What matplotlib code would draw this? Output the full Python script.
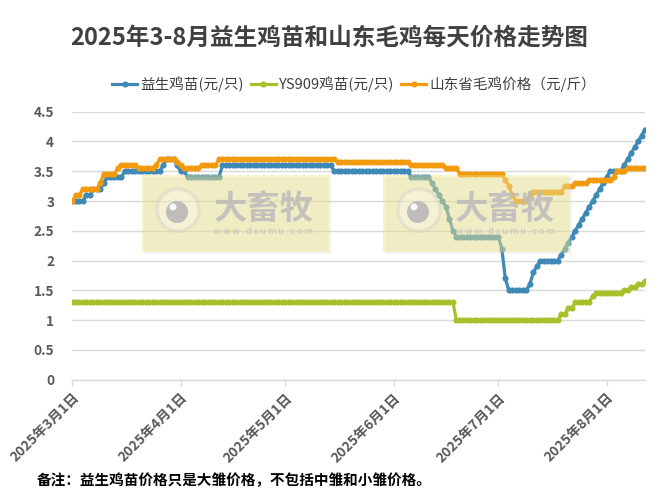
import matplotlib
matplotlib.use("Agg")
import matplotlib.pyplot as plt
from matplotlib.patches import Rectangle, Circle
from matplotlib.lines import Line2D
import pandas as pd

plt.rcParams['font.family'] = ['Noto Sans CJK SC', 'DejaVu Sans']

title = "2025年3-8月益生鸡苗和山东毛鸡每天价格走势图"
note = "备注：益生鸡苗价格只是大雏价格，不包括中雏和小雏价格。"
series_names = ["益生鸡苗(元/只)", "YS909鸡苗(元/只)", "山东省毛鸡价格（元/斤）"]
start_date = "2025-03-01"
end_date = "2025-08-12"
tick_dates = ["2025-03-01", "2025-04-01", "2025-05-01", "2025-06-01", "2025-07-01", "2025-08-01"]
tick_labels = ["2025年3月1日", "2025年4月1日", "2025年5月1日", "2025年6月1日", "2025年7月1日", "2025年8月1日"]
y_ticks = [0, 0.5, 1, 1.5, 2, 2.5, 3, 3.5, 4, 4.5]
y_tick_labels = ["0", "0.5", "1", "1.5", "2", "2.5", "3", "3.5", "4", "4.5"]

yisheng = [
    3.0, 3.0, 3.0, 3.0, 3.1, 3.1, 3.2, 3.2, 3.2, 3.3,
    3.4, 3.4, 3.4, 3.4, 3.4, 3.5, 3.5, 3.5, 3.5, 3.5,
    3.5, 3.5, 3.5, 3.5, 3.5, 3.5, 3.6, 3.7, 3.7, 3.7,
    3.6, 3.5, 3.5, 3.4, 3.4, 3.4, 3.4, 3.4, 3.4, 3.4,
    3.4, 3.4, 3.4, 3.6, 3.6, 3.6, 3.6, 3.6, 3.6, 3.6,
    3.6, 3.6, 3.6, 3.6, 3.6, 3.6, 3.6, 3.6, 3.6, 3.6,
    3.6, 3.6, 3.6, 3.6, 3.6, 3.6, 3.6, 3.6, 3.6, 3.6,
    3.6, 3.6, 3.6, 3.6, 3.6, 3.5, 3.5, 3.5, 3.5, 3.5,
    3.5, 3.5, 3.5, 3.5, 3.5, 3.5, 3.5, 3.5, 3.5, 3.5,
    3.5, 3.5, 3.5, 3.5, 3.5, 3.5, 3.5, 3.4, 3.4, 3.4,
    3.4, 3.4, 3.4, 3.3, 3.2, 3.1, 3.0, 2.9, 2.7, 2.5,
    2.4, 2.4, 2.4, 2.4, 2.4, 2.4, 2.4, 2.4, 2.4, 2.4,
    2.4, 2.4, 2.4, 2.2, 1.7, 1.5, 1.5, 1.5, 1.5, 1.5,
    1.5, 1.6, 1.8, 1.9, 2.0, 2.0, 2.0, 2.0, 2.0, 2.0,
    2.1, 2.2, 2.3, 2.4, 2.5, 2.6, 2.7, 2.8, 2.9, 3.0,
    3.1, 3.2, 3.3, 3.4, 3.5, 3.5, 3.5, 3.5, 3.6, 3.7,
    3.8, 3.9, 4.0, 4.1, 4.2,
]

ys909 = [
    1.3, 1.3, 1.3, 1.3, 1.3, 1.3, 1.3, 1.3, 1.3, 1.3,
    1.3, 1.3, 1.3, 1.3, 1.3, 1.3, 1.3, 1.3, 1.3, 1.3,
    1.3, 1.3, 1.3, 1.3, 1.3, 1.3, 1.3, 1.3, 1.3, 1.3,
    1.3, 1.3, 1.3, 1.3, 1.3, 1.3, 1.3, 1.3, 1.3, 1.3,
    1.3, 1.3, 1.3, 1.3, 1.3, 1.3, 1.3, 1.3, 1.3, 1.3,
    1.3, 1.3, 1.3, 1.3, 1.3, 1.3, 1.3, 1.3, 1.3, 1.3,
    1.3, 1.3, 1.3, 1.3, 1.3, 1.3, 1.3, 1.3, 1.3, 1.3,
    1.3, 1.3, 1.3, 1.3, 1.3, 1.3, 1.3, 1.3, 1.3, 1.3,
    1.3, 1.3, 1.3, 1.3, 1.3, 1.3, 1.3, 1.3, 1.3, 1.3,
    1.3, 1.3, 1.3, 1.3, 1.3, 1.3, 1.3, 1.3, 1.3, 1.3,
    1.3, 1.3, 1.3, 1.3, 1.3, 1.3, 1.3, 1.3, 1.3, 1.3,
    1.0, 1.0, 1.0, 1.0, 1.0, 1.0, 1.0, 1.0, 1.0, 1.0,
    1.0, 1.0, 1.0, 1.0, 1.0, 1.0, 1.0, 1.0, 1.0, 1.0,
    1.0, 1.0, 1.0, 1.0, 1.0, 1.0, 1.0, 1.0, 1.0, 1.0,
    1.1, 1.1, 1.2, 1.2, 1.3, 1.3, 1.3, 1.3, 1.3, 1.4,
    1.45, 1.45, 1.45, 1.45, 1.45, 1.45, 1.45, 1.45, 1.5, 1.5,
    1.55, 1.55, 1.6, 1.6, 1.65,
]

shandong = [
    3.0, 3.1, 3.1, 3.2, 3.2, 3.2, 3.2, 3.2, 3.3, 3.45,
    3.45, 3.45, 3.45, 3.55, 3.6, 3.6, 3.6, 3.6, 3.6, 3.55,
    3.55, 3.55, 3.55, 3.55, 3.6, 3.7, 3.7, 3.7, 3.7, 3.7,
    3.65, 3.6, 3.55, 3.55, 3.55, 3.55, 3.55, 3.6, 3.6, 3.6,
    3.6, 3.6, 3.7, 3.7, 3.7, 3.7, 3.7, 3.7, 3.7, 3.7,
    3.7, 3.7, 3.7, 3.7, 3.7, 3.7, 3.7, 3.7, 3.7, 3.7,
    3.7, 3.7, 3.7, 3.7, 3.7, 3.7, 3.7, 3.7, 3.7, 3.7,
    3.7, 3.7, 3.7, 3.7, 3.7, 3.7, 3.65, 3.65, 3.65, 3.65,
    3.65, 3.65, 3.65, 3.65, 3.65, 3.65, 3.65, 3.65, 3.65, 3.65,
    3.65, 3.65, 3.65, 3.65, 3.65, 3.65, 3.65, 3.6, 3.6, 3.6,
    3.6, 3.6, 3.6, 3.6, 3.6, 3.6, 3.6, 3.55, 3.55, 3.55,
    3.55, 3.45, 3.45, 3.45, 3.45, 3.45, 3.45, 3.45, 3.45, 3.45,
    3.45, 3.45, 3.45, 3.45, 3.35, 3.25, 3.1, 3.0, 3.0, 3.0,
    3.0, 3.1, 3.15, 3.15, 3.15, 3.15, 3.15, 3.15, 3.15, 3.15,
    3.15, 3.25, 3.25, 3.25, 3.3, 3.3, 3.3, 3.3, 3.35, 3.35,
    3.35, 3.35, 3.35, 3.35, 3.35, 3.4, 3.5, 3.5, 3.5, 3.55,
    3.55, 3.55, 3.55, 3.55, 3.55,
]

colors = ["#3E89B6", "#A9C02C", "#F39A0C"]

dates = pd.date_range(start_date, end_date, freq="D")

fig = plt.figure(figsize=(6.69, 5.0), dpi=100)
fig.patch.set_facecolor("white")
ax = fig.add_axes([72.3 / 669, 1 - 379.6 / 500, (645 - 72.3) / 669, (379.6 - 111.7) / 500])

for vals, c in zip([yisheng, ys909, shandong], colors):
    ax.plot(dates, vals, color=c, lw=2.3, marker="o", markersize=4.4,
            markeredgewidth=0, solid_joinstyle="round", zorder=3)

ax.set_xlim(dates[0], dates[-1])
ax.set_ylim(0, 4.5)
ax.set_yticks(y_ticks)
ax.set_yticklabels(y_tick_labels)
ax.yaxis.grid(True, color="#D9D9D9", lw=1.0)
ax.set_axisbelow(True)
for s in ["top", "right", "left"]:
    ax.spines[s].set_visible(False)
ax.spines["bottom"].set_color("#D9D9D9")
ax.spines["bottom"].set_linewidth(1.0)
ax.tick_params(axis="y", length=0, pad=13, labelsize=9.8, labelcolor="#595959")
for lab in ax.get_yticklabels():
    lab.set_fontweight("bold")

ax.set_xticks(pd.to_datetime(tick_dates))
ax.set_xticklabels(tick_labels, rotation=45, ha="right", va="top",
                   rotation_mode="anchor", fontsize=10, fontweight="bold", color="#595959")
ax.tick_params(axis="x", length=4, width=1.0, color="#D9D9D9", pad=4)

fig.text(329 / 669, 1 - 38 / 500, title, ha="center", va="center",
         fontsize=17, fontweight="bold", color="#404040")

handles = [Line2D([0], [0], color=c, lw=2.3, marker="o", markersize=4.4, markeredgewidth=0)
           for c in colors]
fig.legend(handles, series_names, loc="center", bbox_to_anchor=(354 / 669, 1 - 84 / 500),
           ncol=3, frameon=False, fontsize=10.5, handlelength=1.7, handletextpad=0.2,
           columnspacing=0.5, labelcolor="#404040")

fig.text(37 / 669, 1 - 480 / 500, note, ha="left", va="center",
         fontsize=10.5, fontweight="bold", color="#000000")

# watermark overlay in pixel coordinates
ov = fig.add_axes([0, 0, 1, 1], zorder=10)
ov.set_xlim(0, 669)
ov.set_ylim(500, 0)
ov.axis("off")
ov.patch.set_alpha(0)
for x0 in [142, 383]:
    ov.add_patch(Rectangle((x0 + 2, 177), 187, 77, facecolor="#CCCCCC", alpha=0.2, lw=0))
    ov.add_patch(Rectangle((x0, 175), 187, 77, facecolor="#EBE17D", alpha=0.4, lw=0))
    cx = x0 + 36
    ov.add_patch(Circle((cx, 210), 21, facecolor="#FFFFFF", alpha=0.3,
                        edgecolor="#C6C6C6", lw=2.5))
    ov.add_patch(Circle((cx - 1, 212), 11, facecolor="#B8B8B8", alpha=0.9, lw=0))
    ov.add_patch(Circle((cx - 5, 207), 3.5, facecolor="#FFFFFF", alpha=0.9, lw=0))
    ov.text(x0 + 122, 209, "大畜牧", ha="center", va="center", fontsize=24,
            fontweight="bold", color="#BBBBBB", alpha=0.85)
    ov.text(x0 + 122, 232, "w w w . d x u m u . c o m", ha="center", va="center",
            fontsize=6.5, color="#C0C0C0", alpha=0.9)

fig.savefig("out.png", dpi=100, facecolor="white")
